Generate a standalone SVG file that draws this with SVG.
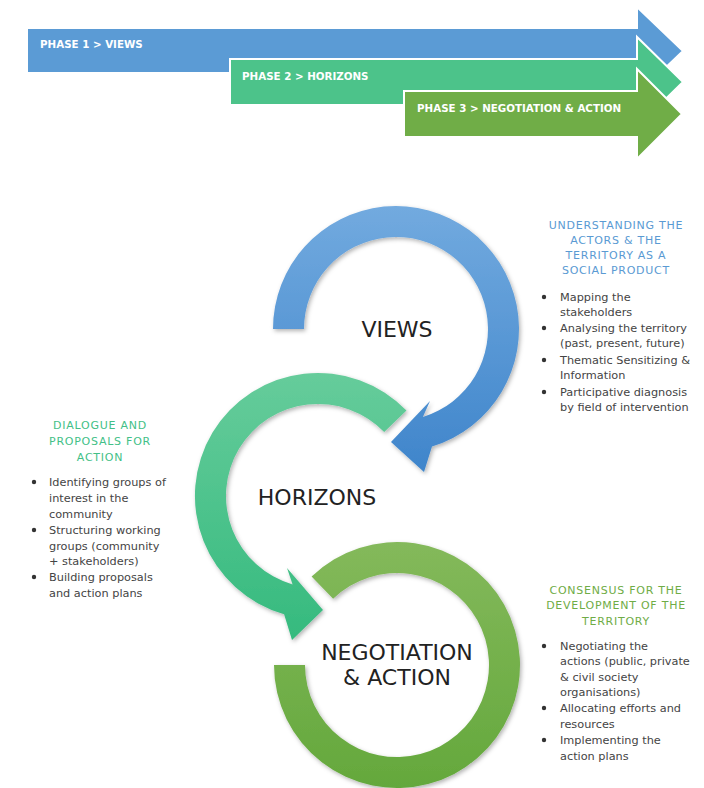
<svg xmlns="http://www.w3.org/2000/svg" width="704" height="788" viewBox="0 0 704 788">
  <style>
    .phase { font-family: "DejaVu Sans", "Liberation Sans", sans-serif; font-weight: bold; font-size: 10.3px; fill: #ffffff; }
    .big { font-family: "DejaVu Sans", "Liberation Sans", sans-serif; font-size: 22px; fill: #222222; text-anchor: middle; }
    .title { font-family: "DejaVu Sans", "Liberation Sans", sans-serif; font-size: 11px; letter-spacing: 0.75px; text-anchor: middle; }
    .body { font-family: "DejaVu Sans", "Liberation Sans", sans-serif; font-size: 11.3px; fill: #444444; }
    .dot { fill: #333333; }
    .band { stroke: #ffffff; stroke-width: 2; stroke-linejoin: miter; }
  </style>
  <defs>
    <linearGradient id="gBlue" x1="0" y1="0" x2="0" y2="1">
      <stop offset="0" stop-color="#72AADF"/>
      <stop offset="1" stop-color="#3F85CB"/>
    </linearGradient>
    <linearGradient id="gTeal" x1="0" y1="0" x2="0" y2="1">
      <stop offset="0" stop-color="#66CC9B"/>
      <stop offset="1" stop-color="#35BA7E"/>
    </linearGradient>
    <linearGradient id="gGreen" x1="0" y1="0" x2="0" y2="1">
      <stop offset="0" stop-color="#84B95B"/>
      <stop offset="1" stop-color="#64A83C"/>
    </linearGradient>
    <filter id="shadow" x="-10%" y="-10%" width="120%" height="120%">
      <feDropShadow dx="1.5" dy="2" stdDeviation="2" flood-color="#000000" flood-opacity="0.3"/>
    </filter>
  </defs>

  <rect width="704" height="788" fill="#ffffff"/>

  <!-- phase timeline -->
  <g id="phase1">
    <polygon class="band" fill="#5B9BD5" points="27,28 637,28 637,7 683,51 637,95 637,73 27,73"/>
    <text class="phase" x="40" y="48">PHASE 1 &gt; VIEWS</text>
  </g>
  <g id="phase2">
    <polygon class="band" fill="#4CC38A" points="230,59 637,59 637,37 683,82 637,127 637,105 230,105"/>
    <text class="phase" x="242" y="80">PHASE 2 &gt; HORIZONS</text>
  </g>
  <g id="phase3">
    <polygon class="band" fill="#70AD47" points="404,91 637,91 637,69 682,114 637,159 637,137 404,137"/>
    <text class="phase" x="417" y="112">PHASE 3 &gt; NEGOTIATION &amp; ACTION</text>
  </g>

  <!-- cycle rings -->
  <g id="connectors">
    <path id="ring-negotiation" filter="url(#shadow)" fill="url(#gGreen)"
          d="M311.6,576.5 A123,123 0 1 1 274,665 L305,665 A92,92 0 1 0 333.1,598.8 Z"/>
    <path id="ring-horizons" filter="url(#shadow)" fill="url(#gTeal)"
          d="M406.5,410.6 A123,123 0 1 0 284.1,614.2 L292,640 L323,610 L287,568 L292.6,584.4 A92,92 0 1 1 384.2,432.1 Z"/>
    <path id="ring-views" filter="url(#shadow)" fill="url(#gBlue)"
          d="M273,329 A123,123 0 1 1 432,446.6 L424,472 L391,442 L430,401 L422.9,417 A92,92 0 1 0 304,329 Z"/>
  </g>

  <g id="views">
    <text class="big" x="397" y="337">VIEWS</text>
  </g>
  <g id="horizons">
    <text class="big" x="317" y="505">HORIZONS</text>
  </g>
  <g id="negotiation">
    <text class="big" x="397" y="660">NEGOTIATION</text>
    <text class="big" x="397" y="685">&amp; ACTION</text>
  </g>

  <!-- phase 1 notes -->
  <g id="views-notes">
    <g class="title" fill="#5A9AD3">
      <text x="616" y="229">UNDERSTANDING THE</text>
      <text x="616" y="244">ACTORS &amp; THE</text>
      <text x="616" y="259">TERRITORY AS A</text>
      <text x="616" y="274">SOCIAL PRODUCT</text>
    </g>
    <g class="body">
      <text x="560" y="301">Mapping the</text>
      <text x="560" y="316">stakeholders</text>
      <text x="560" y="332">Analysing the territory</text>
      <text x="560" y="347">(past, present, future)</text>
      <text x="560" y="364">Thematic Sensitizing &amp;</text>
      <text x="560" y="379">Information</text>
      <text x="560" y="396">Participative diagnosis</text>
      <text x="560" y="411">by field of intervention</text>
    </g>
    <circle class="dot" cx="544" cy="297" r="2.2"/>
    <circle class="dot" cx="544" cy="328" r="2.2"/>
    <circle class="dot" cx="544" cy="360" r="2.2"/>
    <circle class="dot" cx="544" cy="392" r="2.2"/>
  </g>

  <!-- phase 2 notes -->
  <g id="horizons-notes">
    <g class="title" fill="#43BF87">
      <text x="100" y="429">DIALOGUE AND</text>
      <text x="100" y="445">PROPOSALS FOR</text>
      <text x="100" y="461">ACTION</text>
    </g>
    <g class="body">
      <text x="49" y="486">Identifying groups of</text>
      <text x="49" y="502">interest in the</text>
      <text x="49" y="518">community</text>
      <text x="49" y="534">Structuring working</text>
      <text x="49" y="550">groups (community</text>
      <text x="49" y="565">+ stakeholders)</text>
      <text x="49" y="581">Building proposals</text>
      <text x="49" y="597">and action plans</text>
    </g>
    <circle class="dot" cx="34" cy="482" r="2.2"/>
    <circle class="dot" cx="34" cy="530" r="2.2"/>
    <circle class="dot" cx="34" cy="577" r="2.2"/>
  </g>

  <!-- phase 3 notes -->
  <g id="negotiation-notes">
    <g class="title" fill="#6FAC46">
      <text x="616" y="594">CONSENSUS FOR THE</text>
      <text x="616" y="609">DEVELOPMENT OF THE</text>
      <text x="616" y="625">TERRITORY</text>
    </g>
    <g class="body">
      <text x="560" y="650">Negotiating the</text>
      <text x="560" y="665">actions (public, private</text>
      <text x="560" y="681">&amp; civil society</text>
      <text x="560" y="696">organisations)</text>
      <text x="560" y="712">Allocating efforts and</text>
      <text x="560" y="728">resources</text>
      <text x="560" y="744">Implementing the</text>
      <text x="560" y="760">action plans</text>
    </g>
    <circle class="dot" cx="544" cy="646" r="2.2"/>
    <circle class="dot" cx="544" cy="708" r="2.2"/>
    <circle class="dot" cx="544" cy="740" r="2.2"/>
  </g>
</svg>
